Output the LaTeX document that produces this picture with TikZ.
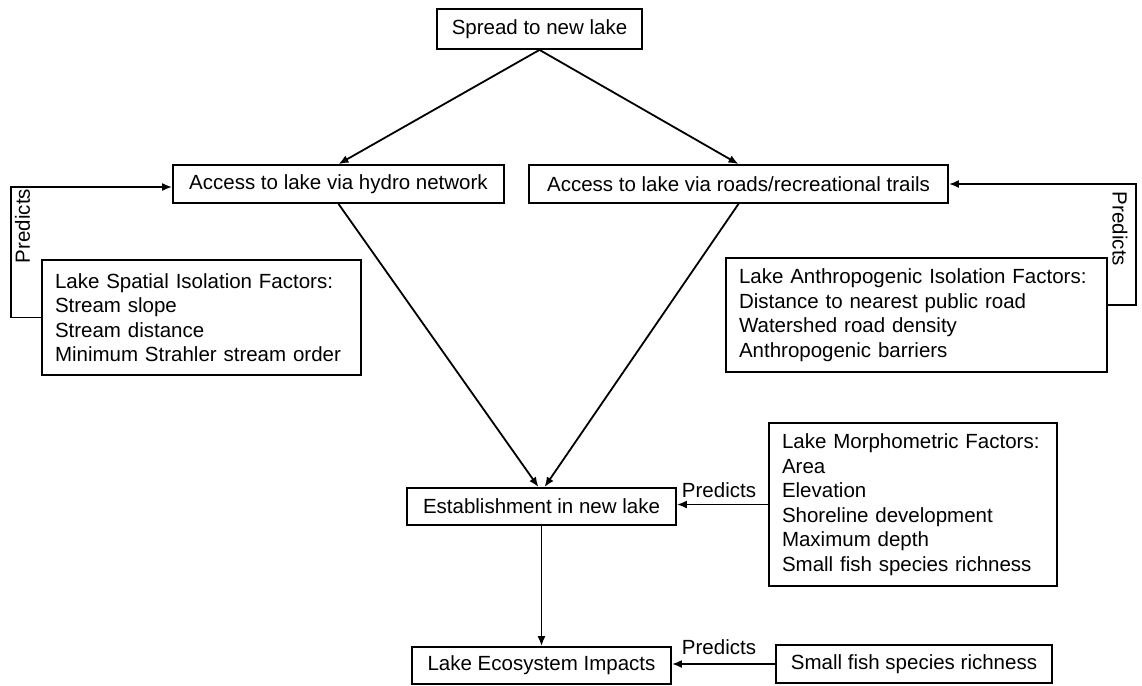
\documentclass[tikz,border=0pt]{standalone}
\usepackage{fontspec}
\setmainfont{Liberation Sans}
\usetikzlibrary{arrows.meta}
\newcommand{\diafont}{\fontsize{20.5}{24.5}\selectfont}
\begin{document}
\begin{tikzpicture}[x=1pt,y=-1pt,
  sbox/.style={draw, line width=1.8pt, minimum width=#1, minimum height=38pt, inner sep=0pt, font=\diafont},
  mbox/.style={draw, line width=1.8pt, text width=#1, align=left, inner xsep=13pt, inner ysep=0pt, font=\diafont},
  lbl/.style={inner sep=0pt, font=\diafont},
  arr/.style={-{Latex[length=10pt,width=8pt]}, line width=1.8pt}
]
\fill[white] (0,0) rectangle (1142,685);
\useasboundingbox (0,0) rectangle (1142,685);

\node[sbox=205, minimum height=40pt] (spread) at (539.5,29) {Spread to new lake};
\node[sbox=331] (hydro) at (338.5,184) {Access to lake via hydro network};
\node[sbox=419] (roads) at (738.5,184) {Access to lake via roads/recreational trails};
\node[mbox=293, minimum height=115pt] (spatial) at (201.5,317.5) {Lake Spatial Isolation Factors:\\Stream slope\\Stream distance\\Minimum Strahler stream order};
\node[mbox=355, minimum height=114pt] (anthro) at (916.5,315) {Lake Anthropogenic Isolation Factors:\\Distance to nearest public road\\Watershed road density\\Anthropogenic barriers};
\node[mbox=262, minimum height=163pt] (morph) at (913,504.5) {Lake Morphometric Factors:\\Area\\Elevation\\Shoreline development\\Maximum depth\\Small fish species richness};
\node[sbox=269, minimum height=37pt] (est) at (541.5,506.5) {Establishment in new lake};
\node[sbox=259, minimum height=37pt] (eco) at (541.5,665.5) {Lake Ecosystem Impacts};
\node[sbox=276] (small) at (914,664) {Small fish species richness};

\node[lbl, rotate=90] (p1) at (22.5,226) {Predicts};
\node[lbl, rotate=-90] (p2) at (1120,229) {Predicts};
\node[lbl] (p3) at (719,490) {Predicts};
\node[lbl] (p4) at (719,647) {Predicts};

\draw[arr] (spread.south) -- (hydro.north);
\draw[arr] (spread.south) -- (roads.north);
\draw[arr] (hydro.south) -- ([xshift=-3pt]est.north);
\draw[arr] (roads.south) -- ([xshift=3pt]est.north);
\draw[arr] (est.south) -- (eco.north);
\draw[arr] (morph.west) -- (morph.west -| est.east);
\draw[arr] (small.west) -- (small.west -| eco.east);
\draw[arr] (spatial.west) -- ++(-30,0) |- ([yshift=-3pt]hydro.west);
\draw[arr] ([yshift=10pt]anthro.east) -- ++(28,0) |- (roads.east);
\end{tikzpicture}
\end{document}
